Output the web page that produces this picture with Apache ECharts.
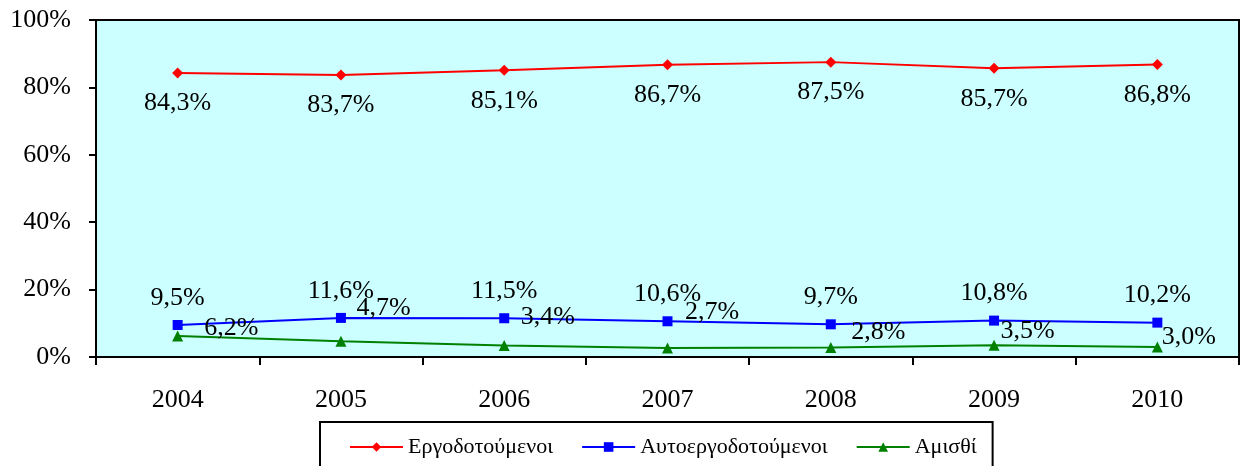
<!DOCTYPE html>
<html>
<head>
<meta charset="utf-8">
<script src="https://cdn.jsdelivr.net/npm/echarts@6/dist/echarts.min.js"></script>
<style>
  html, body { margin: 0; padding: 0; background: #fff; }
  #chart { width: 1241px; height: 466px; }
</style>
</head>
<body>
<div id="chart"></div>
<script>
const years = ['2004', '2005', '2006', '2007', '2008', '2009', '2010']
const employees = [84.3, 83.7, 85.1, 86.7, 87.5, 85.7, 86.8]
const selfEmployed = [9.5, 11.6, 11.5, 10.6, 9.7, 10.8, 10.2]
const unpaid = [6.2, 4.7, 3.4, 2.7, 2.8, 3.5, 3.0]
const seriesNames = ['Εργοδοτούμενοι', 'Αυτοεργοδοτούμενοι', 'Αμισθί']

// nudges for the green labels, the way Excel placed them
const unpaidLabelShiftX = [-2, -13, -12, -11, -8, -22, -24]
const unpaidLabelShiftY = [-8, -33, -28, -36, -15, -14, -10]

const font = '"Liberation Serif", "Times New Roman", serif'
const fmt = v => v.toFixed(1).replace('.', ',') + '%'

let myChart = echarts.init(document.getElementById('chart'))

myChart.setOption({
  animation: false,
  backgroundColor: '#fff',
  grid: {
    left: 96,
    right: 2,
    top: 20,
    bottom: 109,
    show: true,
    backgroundColor: '#CCFFFF',
    borderColor: '#000',
    borderWidth: 2,
    containLabel: false,
    outerBoundsMode: 'none'
  },
  legend: {
    left: 320,
    top: 422,
    itemGap: 28,
    itemWidth: 53,
    itemHeight: 12,
    padding: [14, 16, 30, 29],
    borderColor: '#000',
    borderWidth: 2,
    backgroundColor: '#fff',
    textStyle: {
      fontFamily: font,
      fontSize: 22,
      color: '#000'
    },
    data: seriesNames
  },
  xAxis: {
    type: 'category',
    data: years,
    boundaryGap: true,
    axisLine: { lineStyle: { color: '#000', width: 2 } },
    axisTick: { show: true, length: 8, lineStyle: { color: '#000', width: 2 } },
    axisLabel: {
      margin: 30,
      fontFamily: font,
      fontSize: 26,
      color: '#000'
    },
    splitLine: { show: false }
  },
  yAxis: {
    type: 'value',
    min: 0,
    max: 100,
    interval: 20,
    axisLine: { show: true, lineStyle: { color: '#000', width: 2 } },
    axisTick: { show: true, length: 7, lineStyle: { color: '#000', width: 2 } },
    axisLabel: {
      margin: 25,
      fontFamily: font,
      fontSize: 26,
      color: '#000',
      formatter: '{value}%'
    },
    splitLine: { show: false }
  },
  series: [
    {
      name: seriesNames[0],
      type: 'line',
      data: employees,
      symbol: 'diamond',
      symbolSize: 11,
      itemStyle: { color: '#FF0000' },
      lineStyle: { color: '#FF0000', width: 2 },
      label: {
        show: true,
        position: 'bottom',
        distance: 12,
        fontFamily: font,
        fontSize: 26,
        color: '#000',
        formatter: p => fmt(p.value)
      }
    },
    {
      name: seriesNames[1],
      type: 'line',
      data: selfEmployed,
      symbol: 'rect',
      symbolSize: 10,
      itemStyle: { color: '#0000FF' },
      lineStyle: { color: '#0000FF', width: 2 },
      label: {
        show: true,
        position: 'top',
        distance: 9,
        fontFamily: font,
        fontSize: 26,
        color: '#000',
        formatter: p => fmt(p.value)
      }
    },
    {
      name: seriesNames[2],
      type: 'line',
      data: unpaid.map((v, i) => ({
        value: v,
        label: { offset: [unpaidLabelShiftX[i], unpaidLabelShiftY[i]] }
      })),
      symbol: 'triangle',
      symbolSize: 11,
      itemStyle: { color: '#008000' },
      lineStyle: { color: '#008000', width: 2 },
      label: {
        show: true,
        position: 'right',
        distance: 23,
        fontFamily: font,
        fontSize: 26,
        color: '#000',
        formatter: p => fmt(p.value)
      }
    }
  ]
})
</script>
</body>
</html>
